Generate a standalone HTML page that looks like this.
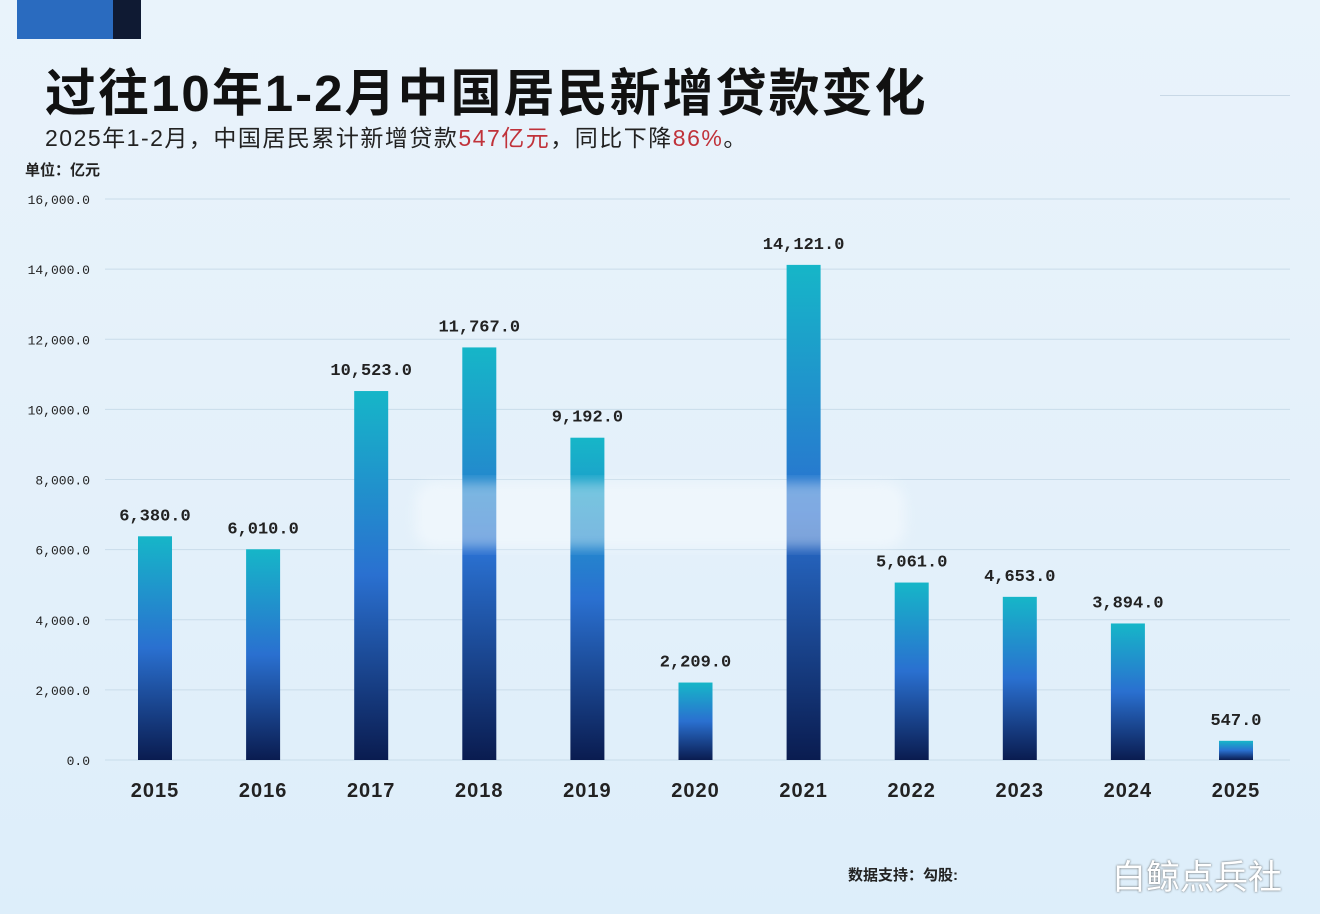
<!DOCTYPE html>
<html><head><meta charset="utf-8"><style>
body{margin:0;width:1320px;height:914px;overflow:hidden;background:linear-gradient(180deg,#e9f3fb 0%,#e3f0fa 60%,#ddeefa 100%);font-family:"Liberation Sans","Noto Sans CJK SC",sans-serif;position:relative}
.abs{position:absolute}
</style></head><body>
<div class="abs" style="left:17px;top:0;width:96px;height:39px;background:#2a6bbf"></div>
<div class="abs" style="left:113px;top:0;width:28px;height:39px;background:#0f1a33"></div>
<div class="abs" style="left:45px;top:52px;font-size:51px;font-weight:bold;color:#111;letter-spacing:2px;font-family:'Liberation Sans','Noto Sans CJK SC',sans-serif">过往10年1-2月中国居民新增贷款变化</div>
<div class="abs" style="left:45px;top:119px;font-size:23px;color:#222;letter-spacing:1.5px">2025年1-2月，中国居民累计新增贷款<span style="color:#c0323a">547亿元</span>，同比下降<span style="color:#c0323a">86%</span>。</div>
<div class="abs" style="left:25px;top:159px;font-size:15px;color:#222;font-weight:bold">单位：亿元</div>
<div class="abs" style="left:1160px;top:95px;width:130px;height:1px;background:#c8d8e6"></div>
<svg class="abs" style="left:0;top:0" width="1320" height="914">
<defs><linearGradient id="g" x1="0" y1="0" x2="0" y2="1">
<stop offset="0" stop-color="#16b6c8"/><stop offset="0.5" stop-color="#2a70d0"/><stop offset="1" stop-color="#0a1c50"/></linearGradient>
<filter id="bl"><feGaussianBlur stdDeviation="6"/></filter></defs>
<g id="grid"></g><g id="bars"></g><g id="labels"></g>
<rect x="415" y="482" width="490" height="66" rx="20" fill="#ffffff" opacity="0.4" filter="url(#bl)"/>
</svg>
<div class="abs" style="left:848px;top:864px;font-size:15px;color:#222;font-weight:bold">数据支持：勾股:</div>
<div class="abs" style="left:1112px;top:850px;font-size:34px;color:#fff;text-shadow:0 0 2px #555">白鲸点兵社</div>
<script>
const years=["2015","2016","2017","2018","2019","2020","2021","2022","2023","2024","2025"];
const values=[6380,6010,10523,11767,9192,2209,14121,5061,4653,3894,547];
const ticks=[0,2000,4000,6000,8000,10000,12000,14000,16000];
const NS="http://www.w3.org/2000/svg";
const y0=760,y1=199,ymax=16000,x0=155,step=108.1,bw=34;
const Y=v=>y0-(v/ymax)*(y0-y1);
const X=i=>x0+i*step;
const fmt=v=>v.toLocaleString('en-US',{minimumFractionDigits:1,maximumFractionDigits:1});
function mk(t,a,p){const e=document.createElementNS(NS,t);for(const k in a)e.setAttribute(k,a[k]);p.appendChild(e);return e;}
const G=document.getElementById('grid'),B=document.getElementById('bars'),L=document.getElementById('labels');
ticks.forEach(t=>{
 const l=mk('line',{x1:105,x2:1290,y1:Y(t),y2:Y(t),stroke:'#c9dcea','stroke-width':1},G);
 
 
 const tx=mk('text',{x:90,y:Y(t)+5,'text-anchor':'end','font-size':13,fill:'#222','font-family':'Liberation Mono,monospace'},G);
 tx.textContent=fmt(t);
 
 
});
values.forEach((v,i)=>{
 const r=mk('rect',{x:X(i)-bw/2,y:Y(v),width:bw,height:y0-Y(v),fill:'url(#g)'},B);
 
 
 const vl=mk('text',{x:X(i),y:Y(v)-16,'text-anchor':'middle','font-size':17,'font-weight':'bold',fill:'#222','font-family':'Liberation Mono,monospace'},L);
 vl.textContent=fmt(v);
 
 
 const xl=mk('text',{x:X(i),y:797,'text-anchor':'middle','font-size':20,'font-weight':'bold',fill:'#222','letter-spacing':'1'},L);
 xl.textContent=years[i];
 
 
});
</script>
</body></html>
